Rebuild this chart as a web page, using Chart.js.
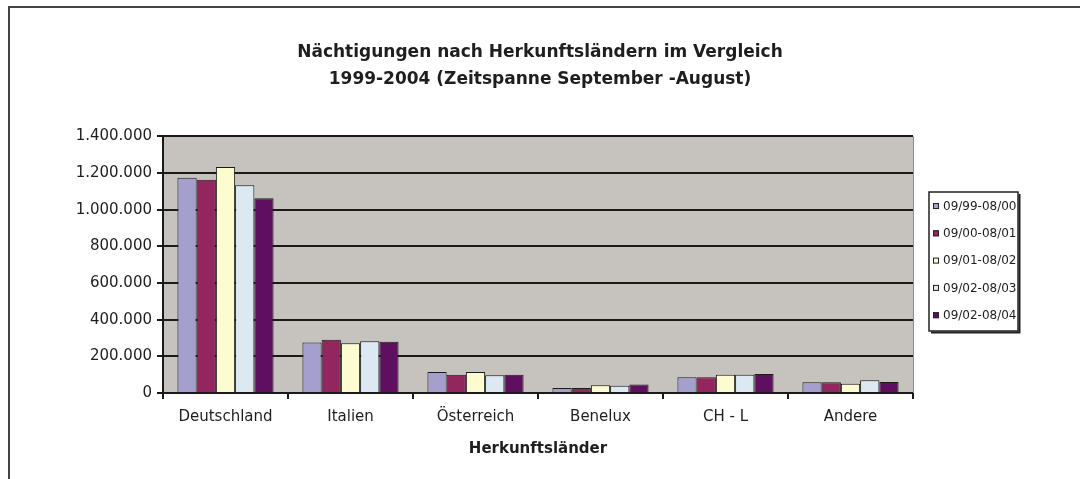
<!DOCTYPE html>
<html>
<head>
<meta charset="utf-8">
<script src="https://cdn.jsdelivr.net/npm/chart.js@4"></script>
<style>
  html, body { margin: 0; padding: 0; background: #ffffff; }
  #wrap { width: 1080px; height: 479px; position: relative; }
</style>
</head>
<body>
<div id="wrap"><canvas id="c" width="1080" height="479"></canvas></div>
<script>
// ---- data ----
const categories = ['Deutschland', 'Italien', 'Österreich', 'Benelux', 'CH - L', 'Andere'];
const seriesLabels = ['09/99-08/00', '09/00-08/01', '09/01-08/02', '09/02-08/03', '09/02-08/04'];
const s9900 = [1175000, 276000, 115000, 27000, 86000, 58000];
const s0001 = [1164000, 291000, 100000, 27000, 86000, 58000];
const s0102 = [1233000, 271000, 115000, 42000, 100000, 51000];
const s0203 = [1134000, 282000, 97000, 40000, 100000, 69000];
const s0304 = [1063000, 279000, 100000, 47000, 103000, 60000];
const titleLines = ['Nächtigungen nach Herkunftsländern im Vergleich', '1999-2004 (Zeitspanne September -August)'];
const xAxisTitle = 'Herkunftsländer';
const yMin = 0, yMax = 1400000, yStep = 200000;

// ---- styles ----
const seriesValues = [s9900, s0001, s0102, s0203, s0304];
const seriesColors = ['#a49fcc', '#93265f', '#fdfbd0', '#dce9f3', '#5f0f5f'];
const FONT = 'DejaVu Sans';
const TEXT = '#1e1e1e';

function fmtDE(v) {
  return String(Math.round(v)).replace(/\B(?=(\d{3})+(?!\d))/g, '.');
}

const decorPlugin = {
  id: 'decor',
  beforeDraw(chart) {
    const {ctx, chartArea: a} = chart;
    ctx.save();
    ctx.fillStyle = '#ffffff';
    ctx.fillRect(0, 0, chart.width, chart.height);
    ctx.fillStyle = '#c6c3bf';
    ctx.fillRect(a.left, a.top, a.right - a.left, a.bottom - a.top);
    ctx.restore();
  },
  afterDraw(chart) {
    const {ctx, chartArea: a} = chart;
    ctx.save();
    // plot area right edge
    ctx.strokeStyle = '#8a8a8a';
    ctx.lineWidth = 1;
    ctx.beginPath();
    ctx.moveTo(a.right + 0.5, a.top);
    ctx.lineTo(a.right + 0.5, a.bottom);
    ctx.stroke();
    // outer frame (top and left)
    ctx.strokeStyle = '#444444';
    ctx.lineWidth = 2;
    ctx.beginPath();
    ctx.moveTo(9, chart.height);
    ctx.lineTo(9, 7);
    ctx.lineTo(chart.width, 7);
    ctx.stroke();
    // legend
    const lx = a.right + 16, ly = 192, lw = 89, lh = 139;
    ctx.fillStyle = '#ffffff';
    ctx.fillRect(lx, ly, lw, lh);
    ctx.strokeStyle = '#222222';
    ctx.lineWidth = 1.5;
    ctx.strokeRect(lx, ly, lw, lh);
    ctx.lineWidth = 2;
    ctx.beginPath();
    ctx.moveTo(lx + lw + 1.5, ly + 2);
    ctx.lineTo(lx + lw + 1.5, ly + lh + 1.5);
    ctx.lineTo(lx + 2, ly + lh + 1.5);
    ctx.stroke();
    ctx.font = '12px "' + FONT + '"';
    ctx.textBaseline = 'middle';
    ctx.textAlign = 'left';
    chart.data.datasets.forEach((ds, i) => {
      const cy = ly + 14 + i * 27.3;
      ctx.fillStyle = ds.backgroundColor;
      ctx.fillRect(lx + 4, cy - 3, 6, 6);
      ctx.strokeStyle = '#222222';
      ctx.lineWidth = 1;
      ctx.strokeRect(lx + 4.5, cy - 2.5, 5, 5);
      ctx.fillStyle = TEXT;
      ctx.fillText(ds.label, lx + 14, cy + 0.5);
    });
    ctx.restore();
  }
};

new Chart(document.getElementById('c'), {
  type: 'bar',
  data: {
    labels: categories,
    datasets: seriesLabels.map((lab, i) => ({
      label: lab,
      data: seriesValues[i],
      backgroundColor: seriesColors[i],
      borderColor: '#1b1b1b',
      borderWidth: 1,
      categoryPercentage: 5 / 6.5,
      barPercentage: 1.0
    }))
  },
  options: {
    responsive: false,
    animation: false,
    devicePixelRatio: 1,
    layout: { padding: { left: 0, right: 0, top: 0, bottom: 16 } },
    plugins: {
      legend: { display: false },
      tooltip: { enabled: false },
      title: {
        display: true,
        text: titleLines,
        color: TEXT,
        font: { family: FONT, size: 17, weight: 'bold', lineHeight: 1.6 },
        padding: { top: 39, bottom: 43 }
      }
    },
    scales: {
      x: {
        grid: { display: true, drawOnChartArea: false, drawTicks: true, tickLength: 6, color: '#1a1a1a', lineWidth: 2, offset: true },
        border: { display: true, color: '#1a1a1a', width: 2 },
        ticks: { color: TEXT, font: { family: FONT, size: 15 }, padding: 9, maxRotation: 0, autoSkip: false },
        title: { display: true, text: xAxisTitle, color: TEXT, font: { family: FONT, size: 15, weight: 'bold' }, padding: { top: 0, bottom: 5 } },
        afterFit(scale) { scale.height = 70; }
      },
      y: {
        min: yMin, max: yMax,
        grid: { color: '#1a1a1a', lineWidth: 2, drawTicks: true, tickLength: 6 },
        border: { display: true, color: '#1a1a1a', width: 2 },
        ticks: { stepSize: yStep, color: TEXT, font: { family: FONT, size: 15 }, padding: 5, callback: (v) => fmtDE(v) },
        afterFit(scale) { scale.width = 163; }
      },
      yRightSpace: {
        position: 'right',
        display: true,
        grid: { display: false, drawTicks: false },
        border: { display: false },
        ticks: { display: false },
        afterFit(scale) { scale.width = 167; }
      }
    }
  },
  plugins: [decorPlugin]
});
</script>
</body>
</html>
